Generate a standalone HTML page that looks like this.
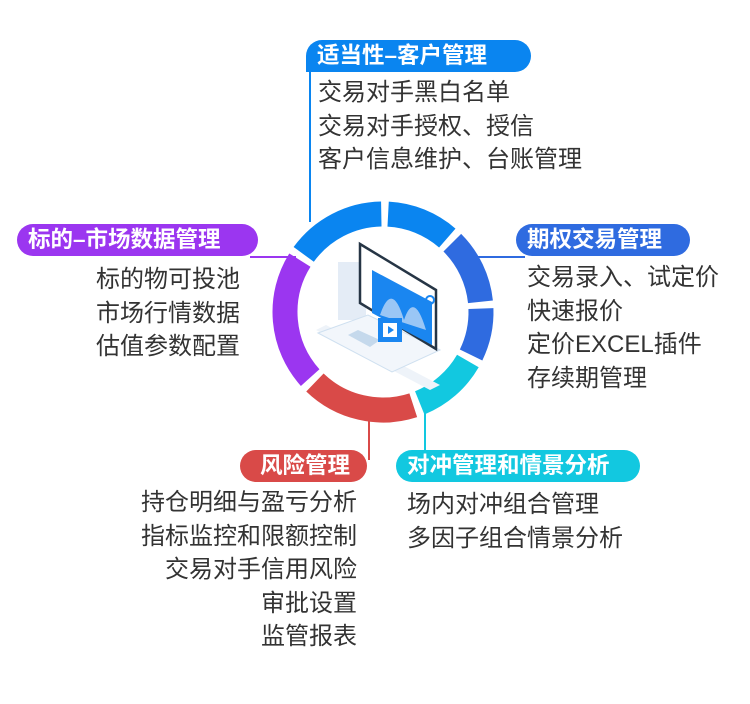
<!DOCTYPE html>
<html><head><meta charset="utf-8"><style>
body{margin:0;width:750px;height:704px;background:#fff;position:relative;overflow:hidden;font-family:"Liberation Sans","Noto Sans CJK SC",sans-serif}
.p{position:absolute;height:32px;line-height:32px;color:#fff;font-weight:bold;font-size:22.5px;border-radius:16px;padding:0 11px;box-sizing:border-box;white-space:nowrap}
.t{position:absolute;font-size:24px;color:#333;line-height:33.5px;white-space:nowrap}
</style></head><body>
<svg width="750" height="704" style="position:absolute;left:0;top:0">
<g stroke-width="2" fill="none">
<line x1="310" y1="56" x2="310" y2="222" stroke="#0a85f0"/>
<line x1="250" y1="257" x2="296" y2="257" stroke="#9b36f0"/>
<line x1="474" y1="257" x2="525" y2="257" stroke="#2f6be0"/>
<line x1="369" y1="418" x2="369" y2="460" stroke="#d94a48"/>
<line x1="425" y1="410" x2="425" y2="460" stroke="#12c8e0"/>
</g>
<g id="ring" fill="none" stroke-width="25"></g>
<g>
<rect x="338" y="262" width="28" height="58" fill="#e4ecf6"/>
<polygon points="316,330 430,390 440,385 326,325" fill="#eef3f9"/>
<polygon points="318,333 392,372 440,350 368,315" fill="#f2f6fb" stroke="#cfe0f0"/>
<polygon points="348,335 370,347 380,340 358,330" fill="#c5d9ec"/>
<polygon points="360,244 436,290 436,349 360,303" fill="#ffffff" stroke="#263545" stroke-width="2.5"/>
<polygon points="372,270 432,302 432,345 372,313" fill="#1a86f0"/>
<path d="M380,315 Q392,280 404,320 Q414,290 426,330" fill="#9ac6f5"/>
<rect x="378" y="318" width="24" height="24" fill="#1a86f0"/>
<rect x="383" y="323" width="14" height="14" fill="#fff"/>
<polygon points="388,326 388,334 394,330" fill="#1a86f0"/>
<circle cx="430" cy="300" r="4" fill="none" stroke="#1a86f0" stroke-width="2"/>
</g>
</svg>
<script>
var g=document.getElementById('ring'),cx=383,cy=312,r=98;
function pt(a){a=(a-90)*Math.PI/180;return [cx+r*Math.cos(a),cy+r*Math.sin(a)];}
[[304,361,'#0a85f0'],[1,43,'#0a85f0'],[43,86,'#2f6be0'],[86,118,'#2f6be0'],[118,160,'#12c8e0'],[160,226,'#d94a48'],[226,304,'#9b36f0']].forEach(function(s){
var a=pt(s[0]+2),b=pt(s[1]-2),l=(s[1]-s[0])>180?1:0;
var p=document.createElementNS('http://www.w3.org/2000/svg','path');
p.setAttribute('d','M'+a[0]+','+a[1]+' A'+r+','+r+' 0 '+l+' 1 '+b[0]+','+b[1]);
p.setAttribute('stroke',s[2]);g.appendChild(p);});
</script>
<div class="p" style="left:306px;top:40px;width:225px;background:#0a85f0;border-bottom-left-radius:0">适当性–客户管理</div>
<div class="t" style="left:318px;top:76px">交易对手黑白名单<br>交易对手授权、授信<br>客户信息维护、台账管理</div>
<div class="p" style="left:17px;top:224px;width:241px;background:#9b36f0">标的–市场数据管理</div>
<div class="t" style="left:96px;top:263px">标的物可投池<br>市场行情数据<br>估值参数配置</div>
<div class="p" style="left:516px;top:224px;width:174px;background:#2f6be0">期权交易管理</div>
<div class="t" style="left:527px;top:261px">交易录入、试定价<br>快速报价<br>定价EXCEL插件<br>存续期管理</div>
<div class="p" style="left:240px;top:450px;width:127px;background:#d94a48;padding-left:20px">风险管理</div>
<div class="t" style="right:393px;top:486px;text-align:right">持仓明细与盈亏分析<br>指标监控和限额控制<br>交易对手信用风险<br>审批设置<br>监管报表</div>
<div class="p" style="left:396px;top:450px;width:244px;background:#12c8e0">对冲管理和情景分析</div>
<div class="t" style="left:407px;top:488px">场内对冲组合管理<br>多因子组合情景分析</div>
</body></html>
